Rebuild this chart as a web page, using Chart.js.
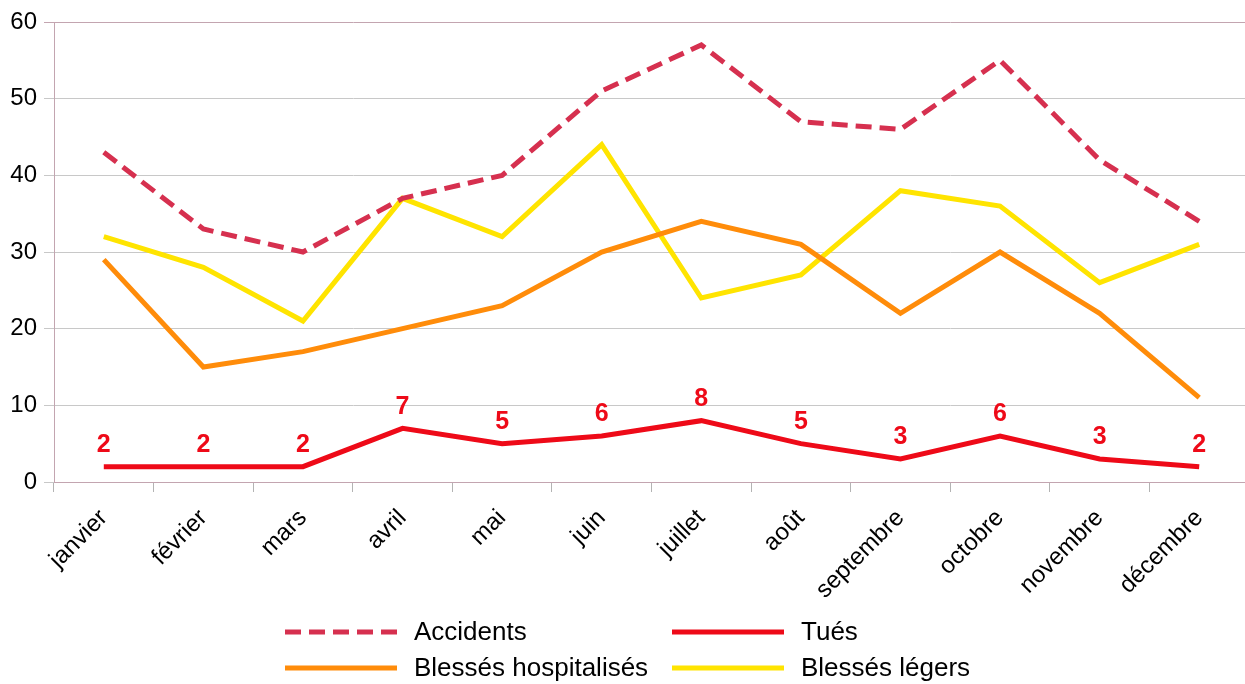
<!DOCTYPE html>
<html>
<head>
<meta charset="utf-8">
<script src="https://cdn.jsdelivr.net/npm/chart.js@4.4.1/dist/chart.umd.min.js"></script>
<style>
  html, body { margin: 0; padding: 0; background: #fff; overflow: hidden; }
  #chart { display: block; }
</style>
</head>
<body>
<canvas id="chart" width="1249" height="684"></canvas>
<script>
const months = ['janvier', 'février', 'mars', 'avril', 'mai', 'juin', 'juillet', 'août', 'septembre', 'octobre', 'novembre', 'décembre'];
const accidents = [43, 33, 30, 37, 40, 51, 57, 47, 46, 55, 42, 34];
const tues = [2, 2, 2, 7, 5, 6, 8, 5, 3, 6, 3, 2];
const hospitalises = [29, 15, 17, 20, 23, 30, 34, 31, 22, 30, 22, 11];
const legers = [32, 28, 21, 37, 32, 44, 24, 27, 38, 36, 26, 31];
const yTicks = [0, 10, 20, 30, 40, 50, 60];

const FONT = "'Liberation Sans', Arial, sans-serif";

// labels above the "Tués" points
const valueLabels = {
    id: 'valueLabels',
    afterDatasetsDraw(chart) {
        const ctx = chart.ctx;
        const meta = chart.getDatasetMeta(1);
        ctx.save();
        ctx.fillStyle = '#ee0a18';
        ctx.font = 'bold 25px ' + FONT;
        ctx.textAlign = 'center';
        ctx.textBaseline = 'bottom';
        meta.data.forEach((pt, i) => {
            ctx.fillText(chart.data.datasets[1].data[i], pt.x, pt.y - 9);
        });
        ctx.restore();
    }
};

// two-column legend under the axis
const gridLegend = {
    id: 'gridLegend',
    afterDraw(chart) {
        const ctx = chart.ctx;
        const pos = [[285, 632], [672, 632], [285, 668], [672, 668]];
        ctx.save();
        ctx.font = '26px ' + FONT;
        ctx.textBaseline = 'middle';
        ctx.fillStyle = '#000';
        chart.data.datasets.forEach((ds, i) => {
            const [x, y] = pos[i];
            ctx.strokeStyle = ds.borderColor;
            ctx.lineWidth = 5;
            ctx.setLineDash(ds.borderDash || []);
            ctx.beginPath();
            ctx.moveTo(x, y);
            ctx.lineTo(x + 112, y);
            ctx.stroke();
            ctx.setLineDash([]);
            ctx.fillText(ds.label, x + 129, y + 1);
        });
        ctx.restore();
    }
};

new Chart(document.getElementById('chart'), {
    type: 'line',
    data: {
        labels: months,
        datasets: [
            { label: 'Accidents', data: accidents, borderColor: '#d6304f', borderDash: [16, 8] },
            { label: 'Tués', data: tues, borderColor: '#ee0a18' },
            { label: 'Blessés hospitalisés', data: hospitalises, borderColor: '#ff8c0a' },
            { label: 'Blessés légers', data: legers, borderColor: '#ffe400' }
        ].map(d => Object.assign({ borderWidth: 5, pointRadius: 0, tension: 0, fill: false, borderCapStyle: 'butt', borderJoinStyle: 'miter' }, d))
    },
    options: {
        responsive: false,
        animation: false,
        events: [],
        layout: { padding: { top: 22, right: 0, left: 0, bottom: 0 } },
        plugins: { legend: { display: false }, tooltip: { enabled: false } },
        scales: {
            x: {
                offset: true,
                afterFit(s) { s.height = 202; },
                grid: { drawOnChartArea: false, drawTicks: true, tickLength: 10, color: '#b3b3b3', offset: true },
                border: { color: '#c3a5b0', width: 1 },
                ticks: { color: '#000', font: { family: FONT, size: 24 }, minRotation: 45, maxRotation: 45, padding: 12 }
            },
            y: {
                min: 0,
                max: 60,
                afterFit(s) { s.width = 54; },
                afterBuildTicks(s) { s.ticks = yTicks.map(v => ({ value: v })); },
                grid: {
                    color: c => (c.tick && c.tick.value === 60) ? '#c3a5b0' : '#c8c8c8',
                    tickLength: 10,
                    lineWidth: 1
                },
                border: { color: '#c3a5b0', width: 1 },
                ticks: { color: '#000', font: { family: FONT, size: 24 }, padding: 7 }
            }
        }
    },
    plugins: [valueLabels, gridLegend]
});
</script>
</body>
</html>
